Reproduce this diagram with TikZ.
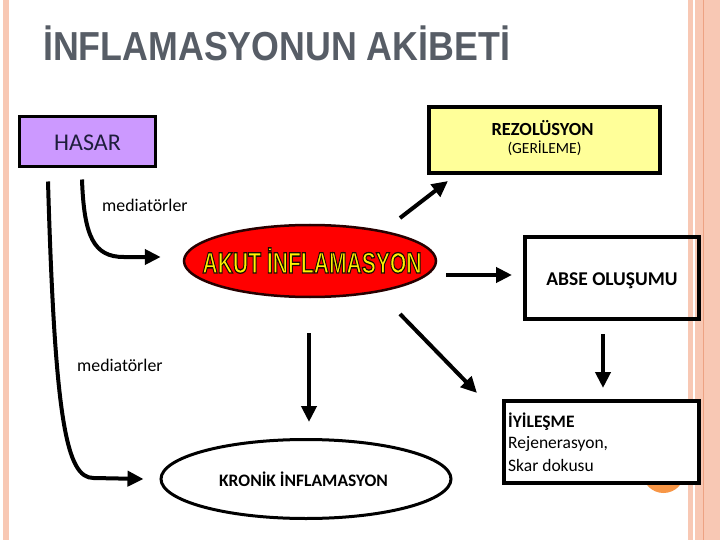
\documentclass[tikz,border=0pt]{standalone}
\usepackage{fontspec}
\setmainfont{Carlito}
\newfontfamily\lsans{Liberation Sans}
\usetikzlibrary{shapes.geometric,arrows.meta,calc}
\definecolor{stripe}{HTML}{F8C8B4}
\definecolor{stripeline}{HTML}{EDA283}
\definecolor{titlegray}{HTML}{575D66}
\definecolor{lavender}{HTML}{CC99FF}
\definecolor{paleyellow}{HTML}{FFFF99}
\definecolor{slideorange}{HTML}{F79646}
\definecolor{navytext}{HTML}{1E1E3C}
\newcommand{\akutlabel}{{\lsans\bfseries\fontsize{29.3}{30}\selectfont\special{pdf:literal direct 2 Tr 1.3 w 0.1 0.05 0 RG}\scalebox{0.72}[1]{AKUT İNFLAMASYON}\special{pdf:literal direct 0 Tr 0.4 w}}}
\begin{document}
\begin{tikzpicture}[x=1pt,y=-1pt,
  box/.style={draw=black,line width=4pt,inner sep=0pt,rectangle},
  arr/.style={line width=4pt,-{Triangle[length=16pt,width=15pt]}},
  lbl/.style={anchor=base,inner sep=0pt}]
\useasboundingbox (0,0) rectangle (720,540);
\fill[white] (0,0) rectangle (720,540);
% side stripes
\fill[stripe] (3,0) rectangle (9,540);
\fill[stripe] (688,0) rectangle (693,540);
\fill[stripe] (695,0) rectangle (720,540);
\draw[stripeline,line width=1.2pt] (703.5,0) -- (703.5,540);
% title
\node[anchor=base west,inner sep=0pt,text=titlegray] (title) at (43,61)
  {\lsans\bfseries\fontsize{40.5}{42}\selectfont\scalebox{0.883}[1]{İNFLAMASYONUN AKİBETİ}};
% slide number circle (mostly hidden)
\fill[slideorange] (663.5,472) circle (21);
% boxes
\node[box,line width=3pt,fill=lavender,minimum width=136pt,minimum height=50pt] (hasar) at (87.5,141.5) {};
\node[lbl,text=navytext] (hasart) at (87.5,150.5) {\fontsize{24}{26}\selectfont HASAR};
\node[box,fill=paleyellow,minimum width=231pt,minimum height=66pt] (rez) at (544.5,140) {};
\node[lbl] (rezt1) at ($(rez.center)+(-2,-4)$) {\bfseries\fontsize{18.5}{20}\selectfont REZOLÜSYON};
\node[lbl] (rezt2) at ($(rez.center)+(0,14)$) {\fontsize{15.5}{17}\selectfont (GERİLEME)};
\node[box,minimum width=174pt,minimum height=82pt] (abse) at (612,278) {};
\node[lbl] (abset) at ($(abse.center)+(0,7)$) {\bfseries\fontsize{19.5}{21}\selectfont ABSE OLUŞUMU};
\node[box,fill=white,minimum width=195pt,minimum height=82pt] (iyi) at (601.5,442) {};
\node[lbl,anchor=base west] (iyit1) at ($(iyi.west)+(6,-15)$) {\bfseries\fontsize{17.5}{19}\selectfont İYİLEŞME};
\node[lbl,anchor=base west] (iyit2) at ($(iyi.west)+(6,6)$) {\fontsize{17.5}{19}\selectfont Rejenerasyon,};
\node[lbl,anchor=base west] (iyit3) at ($(iyi.west)+(6,29)$) {\fontsize{17.5}{19}\selectfont Skar dokusu};
% ellipses
\node[ellipse,draw=black!85!red,line width=2.5pt,fill=red,minimum width=252pt,minimum height=72pt,inner sep=0pt] (akut) at (310,261) {};
\node[ellipse,draw=black,line width=3pt,fill=white,minimum width=290pt,minimum height=79pt,inner sep=0pt] (kronik) at (306,479) {};
\node[lbl] (kronikt) at ($(kronik.center)+(-2.5,7)$) {\bfseries\fontsize{17.5}{19}\selectfont KRONİK İNFLAMASYON};
% labels
\node[anchor=base west,inner sep=0pt] (med1) at (102,211.7) {\fontsize{17.8}{19}\selectfont mediatörler};
\node[anchor=base west,inner sep=0pt] (med2) at (77,371.7) {\fontsize{17.8}{19}\selectfont mediatörler};
% connector end points
\coordinate (c1s) at ($(hasar.south)+(-5.5,11.5)$);
\coordinate (c1e) at ($(akut.west)+(-22,-4)$);
\coordinate (c2s) at ($(hasar.south)+(-39.5,13.5)$);
\coordinate (c2e) at ($(kronik.west)+(-16,0)$);
% connectors
\draw[line width=4pt,-{Triangle[length=16pt,width=15pt]}]
  (c1s) .. controls ($(c1s)+(2,57)$) and ($(c1e)+(-67,0)$) .. ($(c1e)+(-37,0)$) -- (c1e);
\draw[line width=4pt,-{Triangle[length=16pt,width=15pt]}]
  (c2s) .. controls ($(c2s)+(7,240)$) and ($(c2e)+(-77,-1)$) .. ($(c2e)+(-50,-1)$) -- (c2e);
\draw[arr] ($(akut.east)+(9,14)$) -- ($(abse.west)+(-11,-3)$);
\draw[arr] ($(akut.center)+(90,-43)$) -- ($(rez.south west)+(21,6)$);
\draw[arr] ($(akut.center)+(90,53)$) -- ($(iyi.north west)+(-25,-6)$);
\draw[arr] ($(akut.south)+(-1,35)$) -- ($(kronik.north)+(3,-16)$);
\draw[arr] ($(abse.south)+(-9,13)$) -- ($(iyi.north)+(1.5,-11)$);
% outlined yellow label, drawn last
\node[lbl,text=yellow] (akutt) at ($(akut.center)+(2,12)$) {\akutlabel};
\end{tikzpicture}
\end{document}
